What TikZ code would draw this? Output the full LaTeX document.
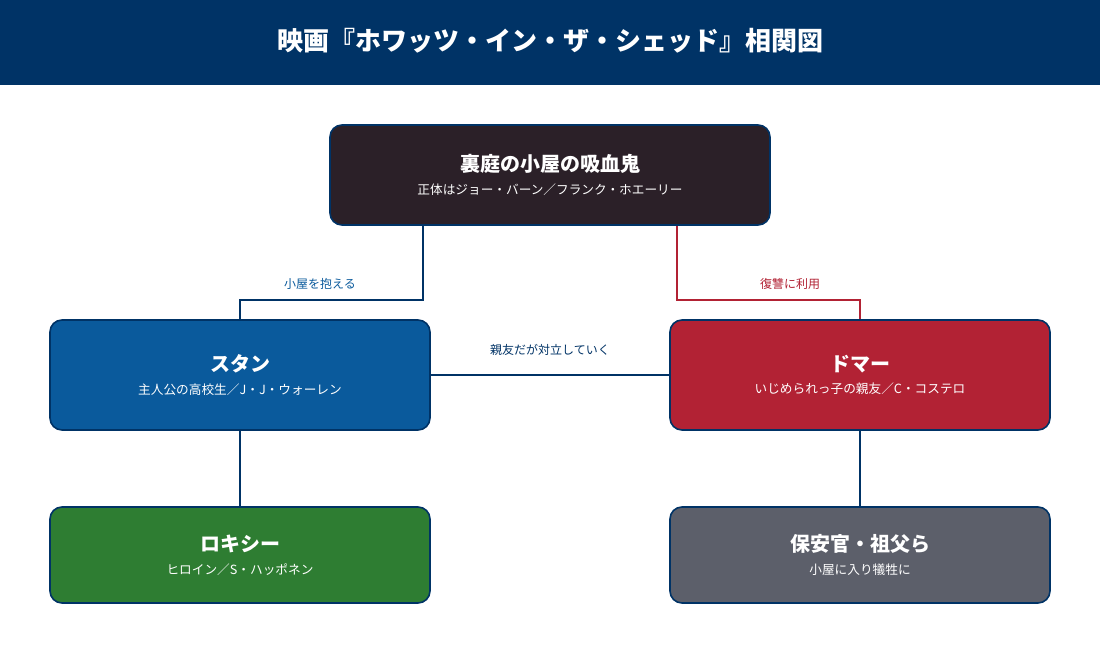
\documentclass[tikz,border=0pt]{standalone}
\usepackage{fontspec}
\setmainfont{Noto Sans CJK JP}
\usetikzlibrary{positioning}
\definecolor{navy}{HTML}{003366}
\definecolor{vampfill}{HTML}{2B2028}
\definecolor{stanfill}{HTML}{0A5A9C}
\definecolor{domarfill}{HTML}{B22234}
\definecolor{roxyfill}{HTML}{2E7D32}
\definecolor{guardfill}{HTML}{5C5F6A}
\tikzset{every picture/.style={line width=0.75pt}}
\tikzset{
  box/.style={draw=navy, line width=1.2pt, rounded corners=9, text=white, align=center, inner sep=0pt},
  link/.style={draw=navy, line width=1.5pt},
  tag/.style={font=\fontsize{9}{11}\selectfont, inner sep=1pt}
}
\newcommand{\boxtext}[2]{{\bfseries\fontsize{15}{18}\selectfont #1}\\[5pt]{\fontsize{9.5}{11}\selectfont #2}}

\begin{document}
\begin{tikzpicture}[x=0.75pt,y=0.75pt,yscale=-1,xscale=1]
\useasboundingbox (0,0) rectangle (1100,660);
\fill[white] (0,0) rectangle (1100,660);

% Title bar
\fill[navy] (0,0) rectangle (1100,85);
\node[text=white, font=\bfseries\fontsize{19.5}{24}\selectfont] (title) at (550,41) {映画『ホワッツ・イン・ザ・シェッド』相関図};

% Characters
\node[box, fill=vampfill, minimum width=330, minimum height=75] (vamp) at (550,175) {\boxtext{裏庭の小屋の吸血鬼}{正体はジョー・バーン／フランク・ホエーリー}};
\node[box, fill=stanfill, minimum width=285, minimum height=82.5] (stan) at (240,375) {\boxtext{スタン}{主人公の高校生／J・J・ウォーレン}};
\node[box, fill=domarfill, minimum width=285, minimum height=82.5] (domar) at (860,375) {\boxtext{ドマー}{いじめられっ子の親友／C・コステロ}};
\node[box, fill=roxyfill, minimum width=285, minimum height=72] (roxy) at (240,555) {\boxtext{ロキシー}{ヒロイン／S・ハッポネン}};
\node[box, fill=guardfill, minimum width=285, minimum height=72] (guard) at (860,555) {\boxtext{保安官・祖父ら}{小屋に入り犠牲に}};

% Links
\draw[link] ([xshift=70]vamp.south west) -- ++(0,74) -| (stan.north);
\draw[link, draw=domarfill] ([xshift=-70]vamp.south east) -- ++(0,74) -| (domar.north);
\draw[link] (stan.east) -- (domar.west);
\draw[link] (stan.south) -- (roxy.north);
\draw[link] (domar.south) -- (guard.north);

% Labels
\node[tag, text=stanfill] (holds) at (320,284) {小屋を抱える};
\node[tag, text=domarfill] (uses) at (790,284) {復讐に利用};
\node[tag, text=navy] (friends) at (550,350) {親友だが対立していく};
\end{tikzpicture}
\end{document}
